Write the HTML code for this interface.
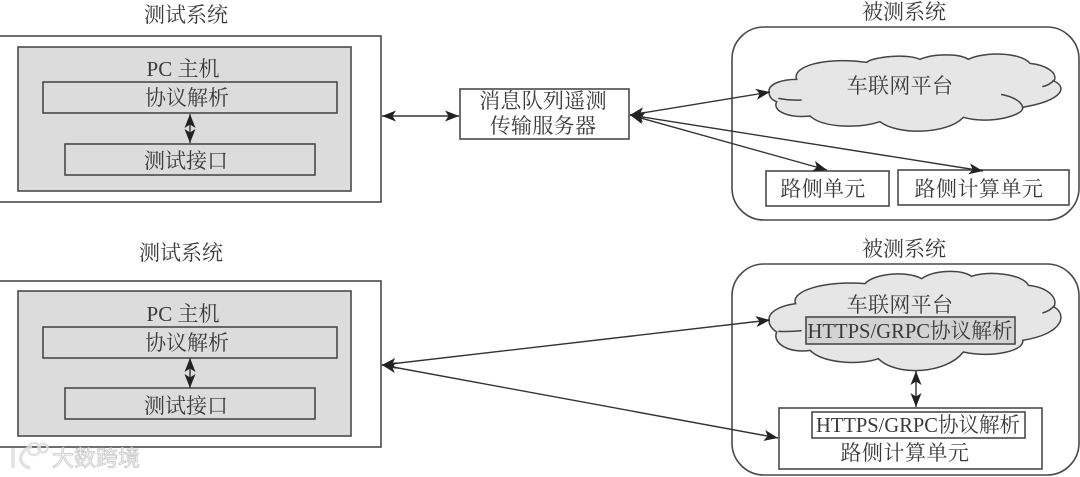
<!DOCTYPE html>
<html><head><meta charset="utf-8"><style>
html,body{margin:0;padding:0;background:#fff}
svg{display:block;filter:blur(.35px)}
text{font-family:"Liberation Serif","Noto Serif CJK SC",serif;font-size:21px;fill:#3a3a3a;text-anchor:middle}
.b{fill:none;stroke:#4a4a4a;stroke-width:1.6}
.w{fill:#fff;stroke:#4a4a4a;stroke-width:1.6}
.g{fill:#dcdcdc;stroke:#4a4a4a;stroke-width:1.6}
.l{fill:none;stroke:#333;stroke-width:1.4}
.c{fill:#e6e6e6;stroke:#444;stroke-width:4.5}
.ci{fill:none;stroke:#444;stroke-width:4.5}
</style></head><body>
<svg width="1080" height="477" viewBox="0 0 1080 477" xmlns="http://www.w3.org/2000/svg">
<defs>
<marker id="a" viewBox="0 0 14 11" refX="14" refY="5.5" markerWidth="14" markerHeight="11" markerUnits="userSpaceOnUse" orient="auto-start-reverse"><path d="M0 0L14 5.5L0 11L3.5 5.5Z" fill="#222"/></marker>
</defs>

<!-- top left -->
<text x="186" y="22">测试系统</text>
<rect class="w" x="-2" y="36" width="383" height="166"/>
<rect class="g" x="18" y="47" width="333" height="144"/>
<text x="183" y="76">PC 主机</text>
<rect class="g" x="43" y="82" width="294" height="31"/>
<text x="187" y="105">协议解析</text>
<rect class="g" x="65" y="144" width="250" height="31"/>
<text x="186" y="168">测试接口</text>
<line class="l" x1="190" y1="114" x2="190" y2="143" marker-start="url(#a)" marker-end="url(#a)"/>

<!-- middle -->
<rect class="w" x="460" y="89" width="169" height="50"/>
<text x="543" y="108" style="letter-spacing:.3px">消息队列遥测</text>
<text x="543" y="133" style="letter-spacing:.3px">传输服务器</text>
<line class="l" x1="382" y1="116" x2="459" y2="116" marker-start="url(#a)" marker-end="url(#a)"/>

<!-- top right -->
<text x="904" y="19">被测系统</text>
<rect class="b" x="732" y="27" width="347" height="193" rx="32"/>
<g transform="translate(700,0) scale(.33333)">
<path class="c" d="M207 275C205 250 250 238 290 238C275 200 370 170 500 187C520 170 620 160 660 178C700 160 780 160 805 178C850 155 960 155 990 190C1040 195 1075 220 1062 243C1100 260 1095 300 968 322C975 345 870 375 790 352C740 405 590 405 540 365C480 385 370 385 330 348C270 355 215 335 230 305C215 300 207 290 207 275Z"/>
<path class="ci" d="M235 295Q270 302 305 300M903 283C940 290 965 305 968 322M1027 260Q1050 255 1062 240"/>
</g>
<text x="900" y="93" style="letter-spacing:.3px">车联网平台</text>
<rect class="w" x="766" y="171" width="123" height="35"/>
<text x="823" y="196" style="letter-spacing:.3px">路侧单元</text>
<rect class="w" x="898" y="170" width="171" height="35"/>
<text x="979" y="196" style="letter-spacing:.5px">路侧计算单元</text>
<line class="l" x1="630" y1="115" x2="770" y2="92" marker-start="url(#a)" marker-end="url(#a)"/>
<line class="l" x1="630" y1="115" x2="827" y2="170" marker-start="url(#a)" marker-end="url(#a)"/>
<line class="l" x1="630" y1="115" x2="983" y2="171" marker-start="url(#a)" marker-end="url(#a)"/>

<!-- bottom left -->
<text x="181" y="260">测试系统</text>
<rect class="w" x="-2" y="281" width="383" height="166"/>
<rect class="g" x="18" y="291" width="333" height="145"/>
<text x="183" y="321">PC 主机</text>
<rect class="g" x="43" y="327" width="294" height="31"/>
<text x="187" y="350">协议解析</text>
<rect class="g" x="65" y="388" width="250" height="31"/>
<text x="186" y="413">测试接口</text>
<line class="l" x1="190" y1="358" x2="190" y2="388" marker-start="url(#a)" marker-end="url(#a)"/>

<!-- bottom right -->
<text x="904" y="256">被测系统</text>
<rect class="b" x="732" y="264" width="347" height="211" rx="32"/>
<g transform="translate(700,237) scale(.33333)">
<path class="c" d="M207 250C205 220 250 205 287 200C270 160 380 130 495 140C520 110 620 100 665 125C700 100 780 95 815 118C860 100 970 110 985 145C1040 150 1075 180 1062 210C1100 230 1095 290 968 310C975 340 880 365 790 345C740 410 590 420 535 365C480 385 370 380 330 340C270 350 215 320 230 285C215 275 207 265 207 250Z"/>
<path class="ci" d="M235 283Q270 285 305 281M1027 228Q1050 222 1062 207"/>
</g>
<text x="900" y="312" style="letter-spacing:.3px">车联网平台</text>
<rect x="806" y="317" width="209" height="27" style="fill:#d2d2d2;stroke:#4a4a4a;stroke-width:1.6"/>
<text x="910" y="338" textLength="205" lengthAdjust="spacingAndGlyphs">HTTPS/GRPC协议解析</text>
<rect class="w" x="779" y="408" width="263" height="61"/>
<rect class="w" x="812" y="412" width="213" height="26"/>
<text x="918" y="432" textLength="204" lengthAdjust="spacingAndGlyphs">HTTPS/GRPC协议解析</text>
<text x="905" y="460" style="letter-spacing:.5px">路侧计算单元</text>
<line class="l" x1="916" y1="371" x2="916" y2="407" marker-start="url(#a)" marker-end="url(#a)"/>
<line class="l" x1="382" y1="365" x2="770" y2="320" marker-start="url(#a)" marker-end="url(#a)"/>
<line class="l" x1="382" y1="365" x2="778" y2="438" marker-start="url(#a)" marker-end="url(#a)"/>

<!-- watermark -->
<g style="opacity:.85">
<path d="M13 448v20M32 447c-12 2-17 17-2 21" fill="none" stroke="#ddd" stroke-width="3.5"/>
<circle cx="34" cy="449" r="6" fill="none" stroke="#ddd" stroke-width="2.5"/>
<circle cx="43" cy="448" r="4.5" fill="none" stroke="#ddd" stroke-width="2.5"/>
<text x="96" y="466" style="font-size:22px;font-family:'Liberation Sans','Noto Sans CJK SC',sans-serif;fill:#f2f2f2;stroke:#bbb;stroke-width:.7">大数跨境</text>
</g>
</svg>
</body></html>
